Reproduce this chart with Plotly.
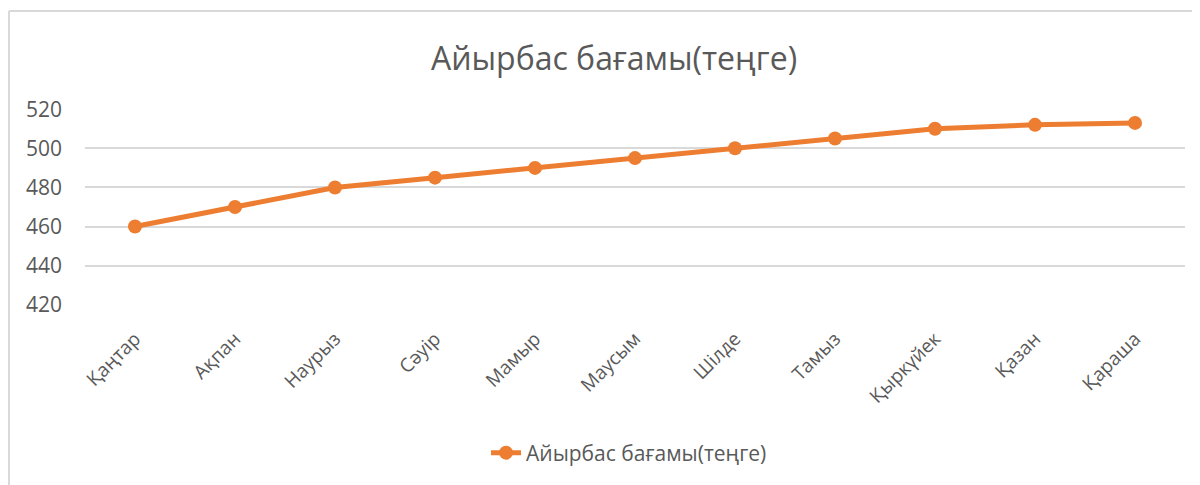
import plotly.graph_objects as go

months = ["Қаңтар", "Ақпан", "Наурыз", "Сәуір", "Мамыр", "Маусым",
          "Шілде", "Тамыз", "Қыркүйек", "Қазан", "Қараша"]
rates = [460, 470, 480, 485, 490, 495, 500, 505, 510, 512, 513]
series_name = "Айырбас бағамы(теңге)"
y_ticks = [420, 440, 460, 480, 500, 520]

ORANGE = "#ED7D31"
GRAY = "#595959"
GRID = "#D9D9D9"
FONT = "Open Sans"

fig = go.Figure()
fig.add_trace(go.Scatter(
    x=months, y=rates, name=series_name, mode="lines+markers",
    line=dict(color=ORANGE, width=5),
    marker=dict(color=ORANGE, size=14),
))

# the page body has an 8px margin, so figure coordinates = screen - 8
OFF = 8
W, H = 1200 - OFF, 485 - OFF
L, T = 85 - OFF, 109 - OFF
PR, PB = 1185 - OFF, 305 - OFF
R, B = W - PR, H - PB
pw = PR - L
ph = PB - T


def px(sx):
    return (sx - OFF - L) / pw


def py(sy):
    return (PB - (sy - OFF)) / ph


fig.update_layout(
    width=W, height=H,
    margin=dict(l=L, r=R, t=T, b=B, autoexpand=False),
    paper_bgcolor="white", plot_bgcolor="white",
    font=dict(family=FONT, color=GRAY, size=18),
    title=dict(text=series_name, x=(614 - OFF) / W, xanchor="center",
               y=1 - (59 - OFF) / H, yanchor="middle",
               font=dict(family=FONT, size=32, color=GRAY)),
    showlegend=True,
    legend=dict(orientation="h", x=px(629), xanchor="center",
                y=py(453), yanchor="middle",
                font=dict(family=FONT, size=21, color=GRAY),
                bgcolor="rgba(0,0,0,0)"),
    xaxis=dict(type="category", range=[-0.5, len(months) - 0.5],
               showgrid=False, showline=False, zeroline=False,
               tickangle=-45, ticks="", tickfont=dict(size=19, color=GRAY),
               ticklabelstandoff=18, automargin=False,
               fixedrange=True),
    yaxis=dict(range=[419.9, 520.1], tickvals=y_ticks,
               showgrid=True, gridcolor=GRID, gridwidth=2,
               showline=False, zeroline=False, ticks="",
               tickfont=dict(size=21, color=GRAY), ticklabelstandoff=22,
               automargin=False, fixedrange=True),
)

# chart frame (left and top border, cropped on the right/bottom)
fig.add_shape(type="line", xref="paper", yref="paper",
              x0=px(9), x1=px(9), y0=py(11), y1=py(500),
              line=dict(color=GRID, width=2))
fig.add_shape(type="line", xref="paper", yref="paper",
              x0=px(9), x1=px(1210), y0=py(11), y1=py(11),
              line=dict(color=GRID, width=2))

fig.write_html("out.html")
